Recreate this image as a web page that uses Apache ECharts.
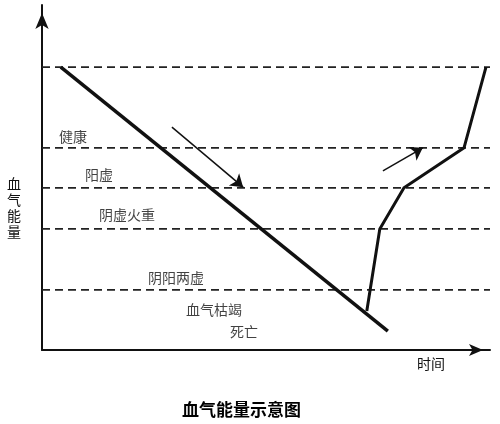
<!DOCTYPE html>
<html><head><meta charset="utf-8">
<script src="https://cdn.jsdelivr.net/npm/echarts@6/dist/echarts.min.js"></script>
<style>html,body{margin:0;padding:0;background:#fff}#c{width:500px;height:424px}</style>
</head><body><div id="c"></div>
<script>
// Data (schematic units: time 0-100, energy 0-100)
const levels = [82.0, 58.6, 47.0, 35.1, 17.4];
const declineX = [4.2, 77.2];
const declineY = [82.0, 5.5];
const recoveryX = [72.5, 75.4, 80.8, 94.2, 99.1];
const recoveryY = [11.3, 35.1, 47.0, 58.6, 82.0];
const arrow1 = [[29.0, 64.6], [44.9, 47.2]];
const arrow2 = [[76.1, 51.9], [85.0, 58.6]];
const zoneNames = ['健康', '阳虚', '阴虚火重', '阴阳两虚', '血气枯竭', '死亡'];
const zoneX = [6.9, 12.7, 19.0, 29.9, 38.4, 45.1];
const zoneY = [61.7, 50.7, 39.1, 20.9, 11.6, 5.2];
const titleText = '血气能量示意图';
const yName = '血气能量';
const xName = '时间';

const font = '"Noto Sans CJK SC", sans-serif';
const ink = '#111';

const series = [];
levels.forEach(function (lv) {
  series.push({
    type: 'line', data: [[0, lv], [100, lv]], symbol: 'none', silent: true,
    lineStyle: { color: '#222', width: 1.8, type: [8, 5] }, z: 1
  });
});
series.push({
  type: 'line', data: declineX.map((x, i) => [x, declineY[i]]), symbol: 'none',
  lineStyle: { color: ink, width: 3.5 }, z: 3
});
series.push({
  type: 'line', data: recoveryX.map((x, i) => [x, recoveryY[i]]), symbol: 'none',
  lineStyle: { color: ink, width: 3, join: 'miter' }, z: 3
});
series.push({
  type: 'lines', coordinateSystem: 'cartesian2d', silent: true,
  symbol: ['none', 'arrow'], symbolSize: [9, 12],
  lineStyle: { color: ink, width: 1.5, opacity: 1 },
  data: [{ coords: arrow1 }, { coords: arrow2 }], z: 4
});
series.push({
  type: 'scatter', symbolSize: 0, silent: true,
  data: zoneX.map((x, i) => ({ value: [x, zoneY[i]], name: zoneNames[i] })),
  label: { show: true, position: 'inside', formatter: p => p.name, color: ink, fontSize: 14, fontFamily: font }
});

const chart = echarts.init(document.getElementById('c'), null, { renderer: 'canvas' });
chart.setOption({
  animation: false,
  backgroundColor: '#fff',
  title: { text: titleText, left: 177, top: 396, textStyle: { fontSize: 17, fontWeight: 'bold', color: '#000', fontFamily: font } },
  grid: { left: 42, right: 10, top: 5, bottom: 74 },
  xAxis: {
    type: 'value', min: 0, max: 100,
    axisLine: { show: true, symbol: ['none', 'arrow'], symbolSize: [9, 14], symbolOffset: [0, -7], lineStyle: { color: ink, width: 2 } },
    axisTick: { show: false }, axisLabel: { show: false }, splitLine: { show: false }
  },
  yAxis: {
    type: 'value', min: 0, max: 100,
    axisLine: { show: true, symbol: ['none', 'arrow'], symbolSize: [10, 16], symbolOffset: [0, -8], lineStyle: { color: ink, width: 2 } },
    axisTick: { show: false }, axisLabel: { show: false }, splitLine: { show: false }
  },
  graphic: [
    { type: 'text', left: 7, top: 176, style: { text: yName.split('').join('\n'), font: '14px ' + font, fill: ink, lineHeight: 16 } },
    { type: 'text', left: 417, top: 357, style: { text: xName, font: '14px ' + font, fill: ink } }
  ],
  series: series
});
</script></body></html>
